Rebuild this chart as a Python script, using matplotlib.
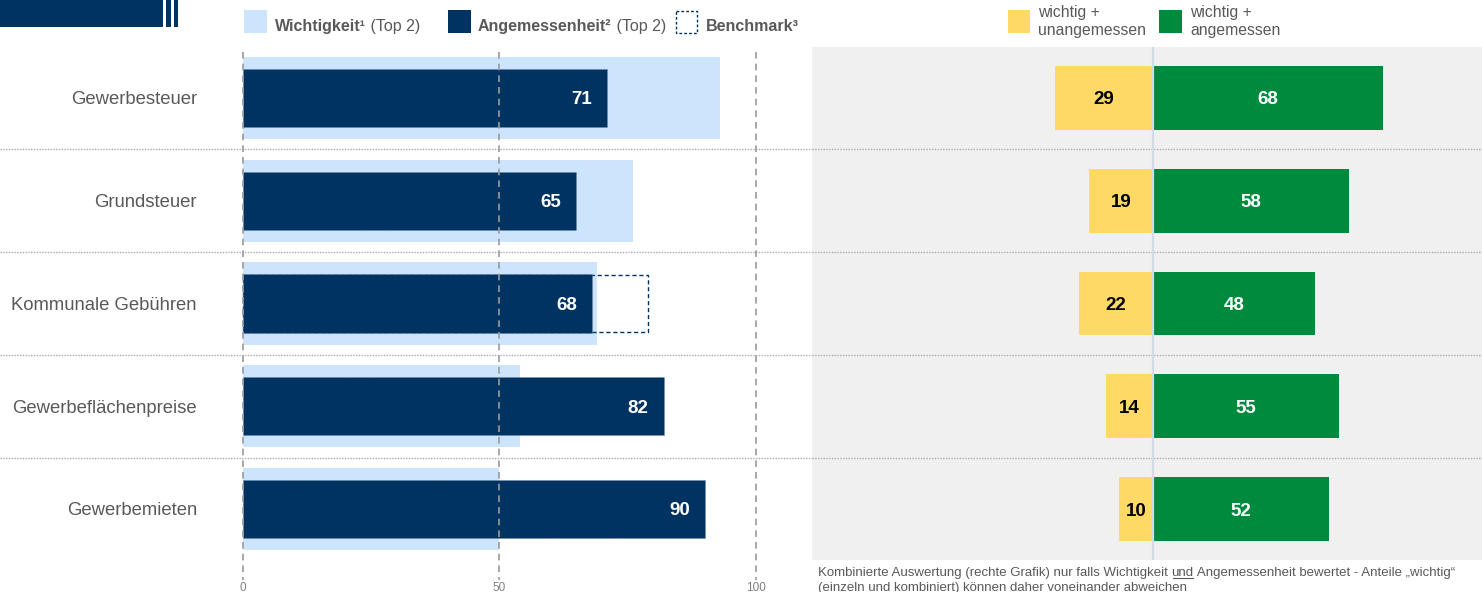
import numpy as np
import matplotlib.pyplot as plt
from matplotlib.patches import Rectangle

plt.rcParams['font.family'] = ['Liberation Sans', 'DejaVu Sans']

# Daten
kategorien = ['Gewerbesteuer', 'Grundsteuer', 'Kommunale Gebühren',
              'Gewerbeflächenpreise', 'Gewerbemieten']
wichtigkeit = [93, 76, 69, 54, 50]
angemessenheit = [71, 65, 68, 82, 90]
benchmark = [np.nan, np.nan, 79, np.nan, np.nan]
unangemessen = [29, 19, 22, 14, 10]
angemessen = [68, 58, 48, 55, 52]
achsen_ticks = [0, 50, 100]

# Farben
hellblau = '#cce4fc'
dunkelblau = '#003362'
gelb = '#ffd966'
gruen = '#008a3e'
grau_text = '#595959'

W, H = 1482, 592
fig = plt.figure(figsize=(W / 100, H / 100), dpi=100)


def px_axes(x0, y0, x1, y1):
    # Achse in Pixelkoordinaten (oben links = 0,0)
    return fig.add_axes([x0 / W, 1 - y1 / H, (x1 - x0) / W, (y1 - y0) / H])


y = np.arange(len(kategorien))

# linke Grafik
ax = px_axes(0, 47, 812, 580)
ax.set_xlim(-47.37, 110.92)
ax.set_ylim(4.691, -0.496)
ax.barh(y, wichtigkeit, height=0.8, color=hellblau, zorder=1)
bm = [(i, b) for i, b in enumerate(benchmark) if not np.isnan(b)]
ax.barh([i for i, _ in bm], [b for _, b in bm], height=0.56, fill=False,
        edgecolor=dunkelblau, linestyle=(0, (3, 2)), lw=1, zorder=2)
ax.barh(y, angemessenheit, height=0.565, color=dunkelblau,
        edgecolor='#7088a8', linestyle=(0, (2, 2)), lw=0.5, zorder=3)
ax.vlines(achsen_ticks, -0.448, 4.691, colors='#9a9a9a',
          linestyles=(0, (4, 3)), lw=1.2, zorder=4)
for b in y[:-1] + 0.5:
    ax.axhline(b, color='#ababab', ls=(0, (1, 1)), lw=1, zorder=0)
for i, v in enumerate(angemessenheit):
    ax.annotate(str(v), xy=(v, i), xytext=(-15, 0), textcoords='offset pixels',
                ha='right', va='center_baseline', color='white', fontweight='bold',
                fontsize=13.5, zorder=5)
for i, name in enumerate(kategorien):
    ax.text(-8.97, i, name, ha='right', va='center_baseline', fontsize=13.3,
            color=grau_text)
ax.set_xticks(achsen_ticks)
ax.tick_params(axis='x', length=0, labelsize=8.5, labelcolor='#808080', pad=1.5)
ax.set_yticks([])
for s in ax.spines.values():
    s.set_visible(False)

# rechte Grafik
ax2 = px_axes(812, 47, 1482, 560)
ax2.set_facecolor('#f0f0f0')
ax2.set_xlim(-100.9, 97.3)
ax2.set_ylim(4.496, -0.496)
ax2.barh(y, [-u for u in unangemessen], height=0.62, color=gelb, zorder=2)
ax2.barh(y, angemessen, height=0.62, color=gruen, zorder=2)
ax2.axvline(0, color='#d3dbe6', lw=1.6, zorder=3)
for b in y[:-1] + 0.5:
    ax2.axhline(b, color='#ababab', ls=(0, (1, 1)), lw=1, zorder=1)
for i, (u, a) in enumerate(zip(unangemessen, angemessen)):
    ax2.text(-u / 2, i, str(u), ha='center', va='center_baseline', color='black',
             fontweight='bold', fontsize=13.5, zorder=4)
    ax2.text(a / 2, i, str(a), ha='center', va='center_baseline', color='white',
             fontweight='bold', fontsize=13.5, zorder=4)
ax2.set_xticks([])
ax2.set_yticks([])
for s in ax2.spines.values():
    s.set_visible(False)

# Overlay für Logo, Legende, Fußnote
ov = fig.add_axes([0, 0, 1, 1], zorder=10)
ov.set_xlim(0, W)
ov.set_ylim(H, 0)
ov.axis('off')

for x0, w in [(0, 163), (166, 5), (174, 4)]:
    ov.add_patch(Rectangle((x0, 0), w, 27, color=dunkelblau, lw=0))

fs = 11.5
ov.add_patch(Rectangle((244, 10), 23, 23, color=hellblau, lw=0))
t = ov.text(275, 31, 'Wichtigkeit¹', fontweight='bold', fontsize=fs,
            color=grau_text, va='baseline')
ov.annotate(' (Top 2)', xy=(1, 0), xycoords=t, va='bottom', fontsize=fs,
            color=grau_text)
ov.add_patch(Rectangle((448, 10), 23, 23, color=dunkelblau, lw=0))
t = ov.text(478, 31, 'Angemessenheit²', fontweight='bold', fontsize=fs,
            color=grau_text, va='baseline')
ov.annotate(' (Top 2)', xy=(1, 0), xycoords=t, va='bottom', fontsize=fs,
            color=grau_text)
ov.add_patch(Rectangle((675.5, 10.5), 21, 22, fill=False, edgecolor=dunkelblau,
                       lw=1, linestyle=(0, (2, 1.5))))
ov.text(706, 31, 'Benchmark³', fontweight='bold', fontsize=fs,
        color=grau_text, va='baseline')

ov.add_patch(Rectangle((1008, 10), 22, 23, color=gelb, lw=0))
ov.text(1038, 22, 'wichtig +\nunangemessen', fontsize=11.3, color=grau_text,
        va='center', linespacing=1.25)
ov.add_patch(Rectangle((1159, 10), 23, 23, color=gruen, lw=0))
ov.text(1190, 22, 'wichtig +\nangemessen', fontsize=11.3, color=grau_text,
        va='center', linespacing=1.25)

ffs = 9.5
t1 = ov.text(818, 576, 'Kombinierte Auswertung (rechte Grafik) nur falls Wichtigkeit ',
             fontsize=ffs, color=grau_text, va='baseline')
t2 = ov.annotate('und', xy=(1, 0), xycoords=t1, va='bottom', fontsize=ffs,
                 color=grau_text)
ov.annotate(' Angemessenheit bewertet - Anteile „wichtig“', xy=(1, 0),
            xycoords=t2, va='bottom', fontsize=ffs, color=grau_text)
ov.text(818, 591, '(einzeln und kombiniert) können daher voneinander abweichen',
        fontsize=ffs, color=grau_text, va='baseline')

fig.canvas.draw()
bb = t2.get_window_extent()
inv = ov.transData.inverted()
(ux0, _), (ux1, _) = inv.transform([(bb.x0, bb.y0), (bb.x1, bb.y0)])
ov.plot([ux0 + 1, ux1 - 1], [578, 578], color=grau_text, lw=0.8)

fig.savefig('out.png', dpi=100)
